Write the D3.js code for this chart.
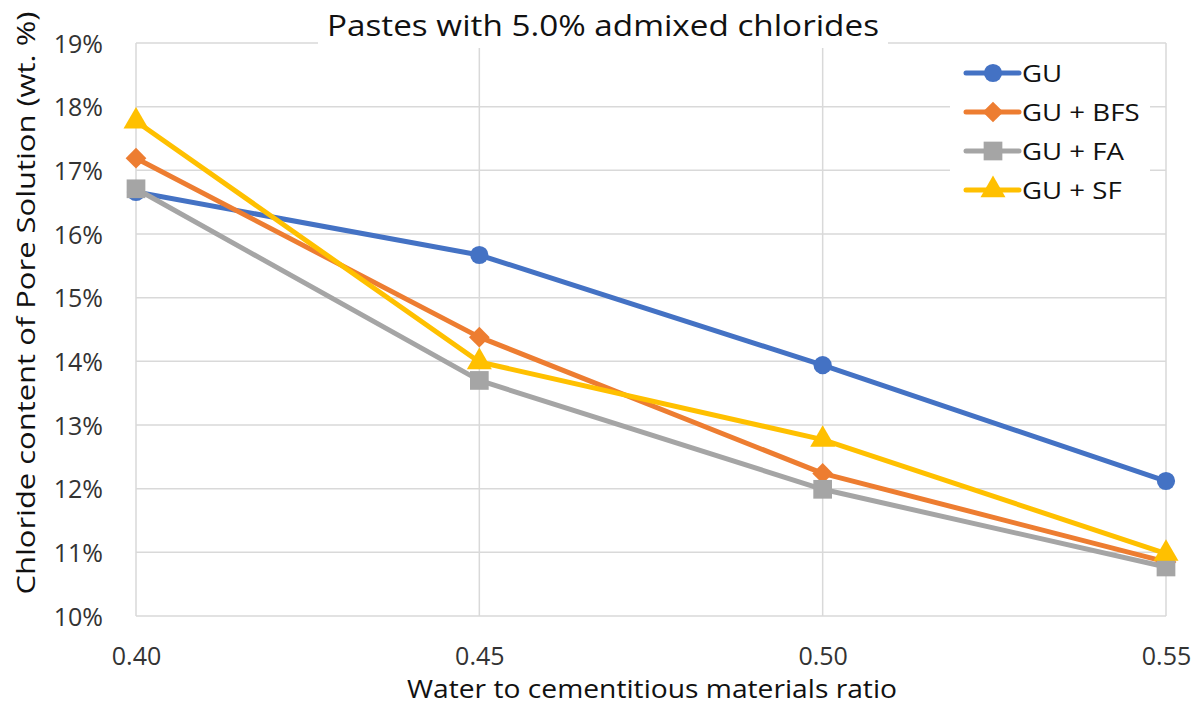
<!DOCTYPE html>
<html>
<head>
<meta charset="utf-8">
<script src="https://cdn.jsdelivr.net/npm/d3@7"></script>
<style>
  html, body { margin: 0; padding: 0; background: #fff; }
  svg { display: block; font-family: "Open Sans", sans-serif; }
</style>
</head>
<body>
<svg id="chart" width="1202" height="705"></svg>
<script>
// w/cm ratios on the x axis
const ratios = [0.40, 0.45, 0.50, 0.55];
const xTicks = [0.40, 0.45, 0.50, 0.55];
const yTicks = [10, 11, 12, 13, 14, 15, 16, 17, 18, 19];

// Chloride content of pore solution, wt. %
const seriesNames = ["GU", "GU + BFS", "GU + FA", "GU + SF"];
const gu    = [16.66, 15.67, 13.94, 12.12];
const guBfs = [17.19, 14.38, 12.24, 10.85];
const guFa  = [16.71, 13.70, 11.99, 10.77];
const guSf  = [17.77, 13.99, 12.77, 10.98];

const colors  = ["#4472C4", "#ED7D31", "#A5A5A5", "#FFC000"];
// diamond = square turned 45 degrees
const symbols = [d3.symbolCircle, d3.symbolSquare, d3.symbolSquare, d3.symbolTriangle];
const symRot  = [0, 45, 0, 0];
const symSize = [260, 215, 350, 270];

const series = [gu, guBfs, guFa, guSf].map((vals, i) => ({
  name: seriesNames[i], color: colors[i], symbol: symbols[i], size: symSize[i], rot: symRot[i],
  points: vals.map((v, j) => ({ x: ratios[j], y: v }))
}));

const svg = d3.select("#chart");
const plotLeft = 136, plotRight = 1166, plotTop = 43, plotBottom = 616;

const x = d3.scaleLinear().domain([0.40, 0.55]).range([plotLeft, plotRight]);
const y = d3.scaleLinear().domain([10, 19]).range([plotBottom, plotTop]);

const grid = svg.append("g");
grid.selectAll("line.h").data(yTicks).join("line")
  .attr("x1", plotLeft).attr("x2", plotRight)
  .attr("y1", d => y(d)).attr("y2", d => y(d))
  .attr("stroke", "#D9D9D9").attr("stroke-width", 1.5);
grid.selectAll("line.v").data(xTicks).join("line")
  .attr("y1", plotTop).attr("y2", plotBottom)
  .attr("x1", d => x(d)).attr("x2", d => x(d))
  .attr("stroke", "#D9D9D9").attr("stroke-width", 1.5);

// Tick labels
const yAxis = d3.axisLeft(y).tickValues(yTicks).tickFormat(d => d + "%").tickSize(0).tickPadding(0);
svg.append("g").attr("transform", `translate(103,0)`).call(yAxis)
  .call(g => g.select(".domain").remove())
  .call(g => g.selectAll("text").attr("font-size", 25).attr("fill", "#333")
    .attr("font-family", "'Open Sans', sans-serif").attr("dy", "0.36em"));

const xAxis = d3.axisBottom(x).tickValues(xTicks).tickFormat(d3.format(".2f")).tickSize(0).tickPadding(0);
svg.append("g").attr("transform", `translate(0,665)`).call(xAxis)
  .call(g => g.select(".domain").remove())
  .call(g => g.selectAll("text").attr("font-size", 25).attr("fill", "#333")
    .attr("font-family", "'Open Sans', sans-serif").attr("dy", 0));

// Series lines and markers
const line = d3.line().x(d => x(d.x)).y(d => y(d.y));
const plot = svg.append("g");
series.forEach(s => {
  plot.append("path").datum(s.points)
    .attr("d", line).attr("fill", "none")
    .attr("stroke", s.color).attr("stroke-width", 5).attr("stroke-linejoin", "round");
  plot.selectAll(null).data(s.points).join("path")
    .attr("transform", d => `translate(${x(d.x)},${y(d.y)}) rotate(${s.rot})`)
    .attr("d", d3.symbol().type(s.symbol).size(s.size))
    .attr("fill", s.color);
});

// Title with its own white backing
const titleG = svg.append("g");
titleG.append("rect").attr("x", 318).attr("y", 4).attr("width", 570).attr("height", 44).attr("fill", "#fff");
titleG.append("text").attr("x", 603).attr("y", 36).attr("text-anchor", "middle")
  .attr("font-size", 29).attr("fill", "#111")
  .attr("textLength", 552).attr("lengthAdjust", "spacingAndGlyphs")
  .text("Pastes with 5.0% admixed chlorides");

// Legend
const legend = svg.append("g");
legend.append("rect").attr("x", 950).attr("y", 52).attr("width", 200).attr("height", 162).attr("fill", "#fff");
series.forEach((s, i) => {
  const ly = 73 + i * 39;
  const g = legend.append("g");
  g.append("line").attr("x1", 966).attr("x2", 1019).attr("y1", ly).attr("y2", ly)
    .attr("stroke", s.color).attr("stroke-width", 5).attr("stroke-linecap", "round");
  g.append("path").attr("transform", `translate(993,${ly}) rotate(${s.rot})`)
    .attr("d", d3.symbol().type(s.symbol).size(s.size)).attr("fill", s.color);
  const t = g.append("text").attr("x", 1022).attr("y", ly).attr("dy", "0.36em")
    .attr("font-size", 24).attr("fill", "#111").text(s.name);
  const natural = t.node().getComputedTextLength();
  t.attr("textLength", natural * 1.15).attr("lengthAdjust", "spacingAndGlyphs");
});

// Axis titles
svg.append("text").attr("x", 652).attr("y", 698).attr("text-anchor", "middle")
  .attr("font-size", 25).attr("fill", "#111")
  .attr("textLength", 490).attr("lengthAdjust", "spacingAndGlyphs")
  .text("Water to cementitious materials ratio");
svg.append("text").attr("transform", "translate(35,303) rotate(-90)").attr("text-anchor", "middle")
  .attr("font-size", 26).attr("fill", "#111")
  .attr("textLength", 583).attr("lengthAdjust", "spacingAndGlyphs")
  .text("Chloride content of Pore Solution (wt. %)");
</script>
</body>
</html>
